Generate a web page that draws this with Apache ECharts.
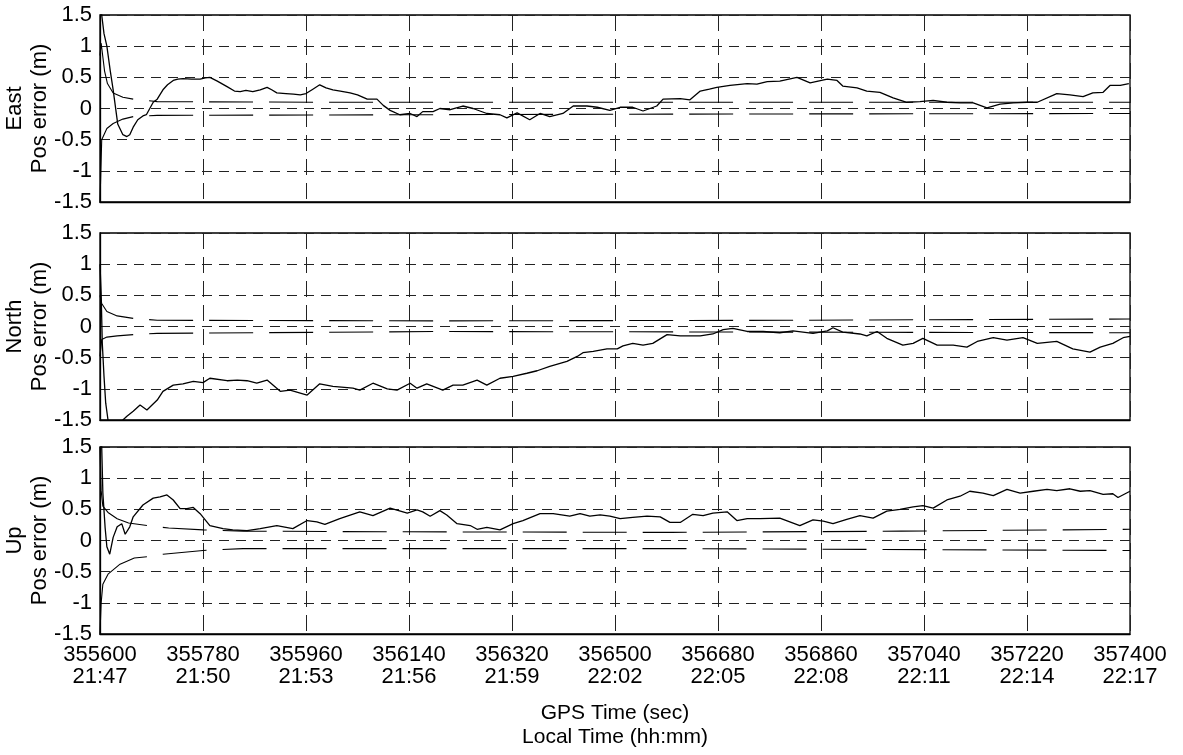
<!DOCTYPE html>
<html>
<head>
<meta charset="utf-8">
<script src="https://cdn.jsdelivr.net/npm/echarts@6/dist/echarts.min.js"></script>
<style>html,body{margin:0;padding:0;background:#fff;}#c{width:1183px;height:755px;}</style>
</head>
<body>
<div id="c"></div>
<script>
// ---- tick labels ----
const gpsTicks = [355600,355780,355960,356140,356320,356500,356680,356860,357040,357220,357400];
const localTimes = ['21:47','21:50','21:53','21:56','21:59','22:02','22:05','22:08','22:11','22:14','22:17'];
const panelNames = ['East','North','Up'];

// ---- East ----
const eastErr = [[355602,1.8],[355603,1.5],[355607,1.2],[355612,1.0],[355618,0.6],[355623,0.3],[355631,-0.25],[355640,-0.42],[355647,-0.45],[355652,-0.42],[355658,-0.3],[355666,-0.18],[355675,-0.12],[355681,-0.1],[355687,0.0],[355693,0.1],[355700,0.15],[355710,0.3],[355718,0.38],[355728,0.45],[355736,0.47],[355745,0.48],[355760,0.47],[355775,0.47],[355784,0.49],[355792,0.5],[355805,0.44],[355822,0.35],[355835,0.28],[355845,0.27],[355855,0.29],[355867,0.27],[355880,0.3],[355892,0.34],[355900,0.3],[355909,0.25],[355925,0.24],[355938,0.23],[355950,0.22],[355960,0.24],[355972,0.31],[355984,0.38],[355995,0.33],[356007,0.3],[356020,0.28],[356037,0.25],[356050,0.22],[356067,0.15],[356084,0.15],[356095,0.05],[356107,-0.03],[356124,-0.1],[356142,-0.08],[356154,-0.13],[356164,-0.05],[356182,-0.05],[356194,0.0],[356212,-0.02],[356234,0.04],[356252,0.0],[356276,-0.08],[356299,-0.1],[356311,-0.15],[356329,-0.07],[356351,-0.18],[356369,-0.08],[356386,-0.13],[356409,-0.08],[356427,0.04],[356451,0.04],[356469,0.02],[356491,-0.03],[356509,0.02],[356531,0.02],[356549,-0.04],[356573,0.04],[356584,0.15],[356614,0.16],[356631,0.14],[356649,0.28],[356665,0.31],[356678,0.34],[356701,0.37],[356731,0.4],[356748,0.39],[356766,0.43],[356788,0.44],[356818,0.5],[356841,0.41],[356871,0.47],[356888,0.45],[356898,0.36],[356923,0.33],[356940,0.28],[356963,0.26],[356986,0.17],[357010,0.1],[357033,0.11],[357056,0.13],[357080,0.1],[357103,0.09],[357126,0.09],[357150,0.01],[357173,0.07],[357196,0.09],[357220,0.1],[357238,0.1],[357272,0.24],[357295,0.22],[357318,0.19],[357335,0.25],[357353,0.26],[357365,0.37],[357383,0.37],[357398,0.4]];
const eastSigUpStart = [[355600,0.85],[355602,1.05],[355608,0.6],[355613,0.4],[355623,0.25],[355640,0.18],[355658,0.15]];
const eastSigLoStart = [[355600,-1.5],[355603,-0.5],[355612,-0.32],[355623,-0.24],[355640,-0.17],[355658,-0.13]];
const eastSigUp = [[355658,0.15],[355700,0.11],[356000,0.1],[357400,0.1]];
const eastSigLo = [[355658,-0.13],[355700,-0.11],[356600,-0.09],[357400,-0.08]];

// ---- North ----
const northErr = [[355600,1.0],[355602,0.53],[355604,-0.27],[355607,-0.8],[355610,-1.23],[355614,-1.5],[355626,-1.7],[355640,-1.5],[355647,-1.44],[355658,-1.36],[355670,-1.26],[355682,-1.34],[355700,-1.18],[355710,-1.04],[355728,-0.94],[355745,-0.92],[355763,-0.88],[355780,-0.9],[355792,-0.83],[355822,-0.87],[355840,-0.86],[355857,-0.87],[355874,-0.91],[355892,-0.86],[355915,-1.04],[355932,-1.02],[355962,-1.1],[355984,-0.92],[356007,-0.96],[356042,-0.99],[356054,-1.02],[356077,-0.91],[356102,-1.0],[356119,-1.02],[356142,-0.91],[356154,-0.99],[356171,-0.92],[356199,-1.02],[356217,-0.94],[356234,-0.94],[356259,-0.86],[356276,-0.94],[356299,-0.83],[356322,-0.8],[356346,-0.75],[356364,-0.71],[356386,-0.64],[356416,-0.56],[356434,-0.48],[356444,-0.42],[356462,-0.4],[356486,-0.36],[356504,-0.36],[356514,-0.31],[356531,-0.27],[356549,-0.3],[356566,-0.27],[356591,-0.13],[356614,-0.15],[356649,-0.15],[356671,-0.12],[356689,-0.05],[356706,-0.03],[356731,-0.08],[356759,-0.08],[356788,-0.1],[356811,-0.07],[356846,-0.11],[356871,-0.07],[356881,-0.02],[356898,-0.09],[356928,-0.12],[356940,-0.15],[356958,-0.08],[356975,-0.19],[357003,-0.3],[357021,-0.27],[357038,-0.19],[357063,-0.3],[357091,-0.3],[357115,-0.33],[357133,-0.24],[357161,-0.18],[357185,-0.22],[357213,-0.18],[357238,-0.27],[357272,-0.24],[357300,-0.36],[357330,-0.41],[357348,-0.33],[357370,-0.27],[357388,-0.18],[357400,-0.16]];
const northSigUpStart = [[355600,0.5],[355603,0.37],[355612,0.24],[355630,0.17],[355658,0.13]];
const northSigLoStart = [[355600,-0.48],[355603,-0.21],[355612,-0.17],[355630,-0.15],[355658,-0.13]];
const northSigUp = [[355658,0.13],[355700,0.1],[356200,0.09],[356800,0.1],[357400,0.12]];
const northSigLo = [[355658,-0.13],[355700,-0.11],[356200,-0.08],[357400,-0.1]];

// ---- Up ----
const upErr = [[355602,1.7],[355603,1.5],[355605,0.76],[355609,0.2],[355612,-0.1],[355617,-0.22],[355623,0.05],[355630,0.22],[355638,0.27],[355644,0.1],[355652,0.22],[355658,0.38],[355675,0.57],[355693,0.68],[355705,0.7],[355717,0.73],[355728,0.65],[355740,0.51],[355752,0.51],[355763,0.53],[355775,0.43],[355792,0.24],[355815,0.19],[355832,0.17],[355857,0.16],[355880,0.19],[355909,0.24],[355937,0.19],[355962,0.32],[355979,0.3],[355993,0.26],[356019,0.35],[356054,0.46],[356077,0.4],[356102,0.5],[356107,0.52],[356137,0.44],[356154,0.49],[356164,0.46],[356177,0.39],[356194,0.48],[356206,0.41],[356224,0.27],[356247,0.24],[356259,0.18],[356276,0.21],[356299,0.17],[356322,0.27],[356339,0.32],[356369,0.43],[356392,0.43],[356421,0.39],[356439,0.43],[356456,0.39],[356474,0.41],[356491,0.39],[356509,0.35],[356531,0.37],[356556,0.39],[356579,0.38],[356596,0.29],[356614,0.29],[356636,0.42],[356654,0.4],[356671,0.44],[356696,0.46],[356713,0.32],[356731,0.35],[356753,0.35],[356788,0.36],[356823,0.24],[356846,0.33],[356864,0.31],[356881,0.27],[356905,0.34],[356928,0.4],[356951,0.36],[356975,0.47],[356998,0.5],[357021,0.54],[357038,0.56],[357056,0.52],[357080,0.65],[357103,0.71],[357120,0.79],[357143,0.76],[357161,0.72],[357185,0.82],[357208,0.76],[357231,0.79],[357255,0.82],[357272,0.8],[357295,0.83],[357313,0.79],[357330,0.8],[357353,0.74],[357370,0.75],[357379,0.69],[357400,0.79]];
const upSigUpStart = [[355600,1.5],[355602,0.8],[355605,0.55],[355614,0.45],[355630,0.35],[355650,0.28],[355682,0.24]];
const upSigLoStart = [[355600,-1.5],[355602,-1.0],[355605,-0.7],[355614,-0.54],[355635,-0.38],[355660,-0.28],[355682,-0.26]];
const upSigUp = [[355682,0.24],[355720,0.2],[355780,0.17],[355850,0.15],[356100,0.14],[356600,0.13],[357000,0.15],[357400,0.18]];
const upSigLo = [[355682,-0.26],[355710,-0.22],[355780,-0.16],[355850,-0.13],[356600,-0.13],[357400,-0.16]];

const panels = [
  {err: eastErr, su0: eastSigUpStart, sl0: eastSigLoStart, su: eastSigUp, sl: eastSigLo},
  {err: northErr, su0: northSigUpStart, sl0: northSigLoStart, su: northSigUp, sl: northSigLo},
  {err: upErr, su0: upSigUpStart, sl0: upSigLoStart, su: upSigUp, sl: upSigLo}
];

const FONT = 'Liberation Sans, Arial, Helvetica, sans-serif';
const tops = [15, 233, 447];
const grids = [], xAxes = [], yAxes = [], series = [];
panels.forEach((p, i) => {
  grids.push({left: 100, right: 53, top: tops[i], height: 187, containLabel: false, outerBoundsMode: 'none',
    show: true, borderColor: '#000', borderWidth: 1.3, backgroundColor: 'transparent'});
  xAxes.push({
    type: 'value', gridIndex: i, min: 355600, max: 357400, interval: 180,
    axisLine: {show: true, onZero: false, lineStyle: {color: '#000', width: 1.3}},
    axisTick: {show: false},
    splitLine: {show: true, lineStyle: {color: '#222', width: 1, type: [16, 8]}},
    axisLabel: {
      show: i === 2, margin: 10, color: '#000', fontFamily: FONT, fontSize: 22, lineHeight: 22,
      formatter: v => { const k = gpsTicks.indexOf(v); return k < 0 ? '' : gpsTicks[k] + '\n' + localTimes[k]; }
    },
    name: i === 2 ? 'GPS Time (sec)\nLocal Time (hh:mm)' : '',
    nameLocation: 'middle', nameGap: 67, nameMoveOverlap: false,
    nameTextStyle: {color: '#000', fontFamily: FONT, fontSize: 21, lineHeight: 24}
  });
  yAxes.push({
    type: 'value', gridIndex: i, min: -1.5, max: 1.5, interval: 0.5,
    axisLine: {show: true, lineStyle: {color: '#000', width: 1.3}},
    axisTick: {show: false},
    splitLine: {show: true, lineStyle: {color: '#222', width: 1, type: [10, 7]}},
    axisLabel: {margin: 8, color: '#000', fontFamily: FONT, fontSize: 22, formatter: v => String(v)},
    name: panelNames[i] + '\nPos error (m)', nameLocation: 'middle', nameRotate: 90, nameGap: 48, nameMoveOverlap: false,
    nameTextStyle: {color: '#000', fontFamily: FONT, fontSize: 22, lineHeight: 25}
  });
  const base = {type: 'line', xAxisIndex: i, yAxisIndex: i, showSymbol: false, symbol: 'none', silent: true, animation: false, clip: true};
  series.push(Object.assign({}, base, {data: p.err, lineStyle: {color: '#000', width: 1.3}, z: 5}));
  series.push(Object.assign({}, base, {data: p.su0, lineStyle: {color: '#000', width: 1.1}}));
  series.push(Object.assign({}, base, {data: p.sl0, lineStyle: {color: '#000', width: 1.1}}));
  series.push(Object.assign({}, base, {data: p.su, lineStyle: {color: '#000', width: 1.1, type: [44, 16], dashOffset: 44}}));
  series.push(Object.assign({}, base, {data: p.sl, lineStyle: {color: '#000', width: 1.1, type: [44, 16], dashOffset: 44}}));
});

const chart = echarts.init(document.getElementById('c'), null, {renderer: 'canvas'});
chart.setOption({
  backgroundColor: '#fff',
  animation: false,
  textStyle: {fontFamily: FONT},
  grid: grids, xAxis: xAxes, yAxis: yAxes, series: series
});
</script>
</body>
</html>
